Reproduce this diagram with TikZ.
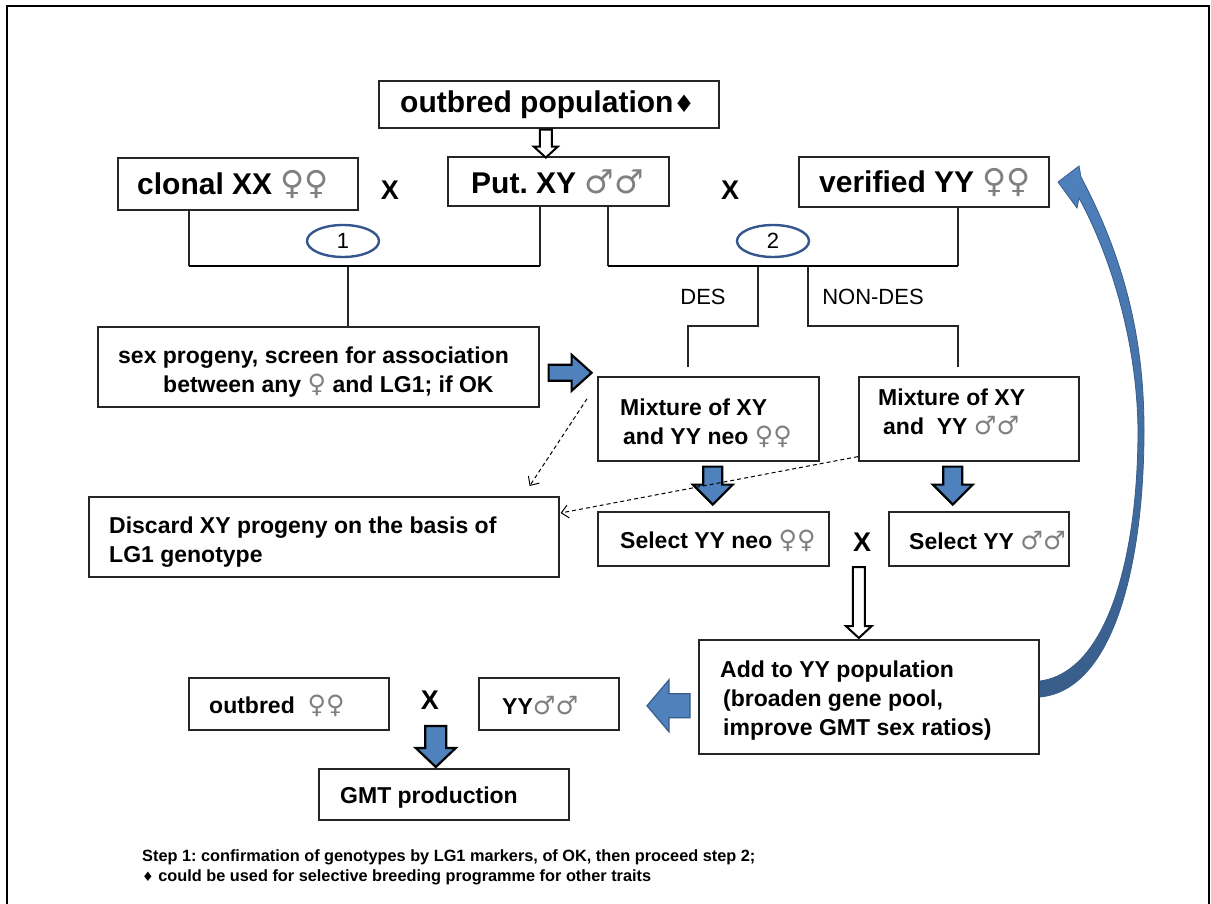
\documentclass[tikz,border=0pt]{standalone}
\usepackage{fontspec}
\setmainfont{Liberation Sans}
\newfontfamily\symfont{DejaVu Sans}[Scale=1.1]
\newfontfamily\diafont{DejaVu Sans}[Scale=0.8]
\usetikzlibrary{calc,arrows.meta,shapes.geometric}
\definecolor{arrowblue}{RGB}{79,129,189}
\definecolor{arrowedge}{RGB}{56,93,138}
\definecolor{ellblue}{RGB}{52,86,140}
\newcommand\fem{{\symfont\mdseries\color{black!50}♀}}
\newcommand\mal{{\symfont\mdseries\color{black!50}♂}}
\newcommand\dia{{\diafont\bfseries ♦}}
\frenchspacing
% vertical block arrow: style, top point, length, shaft half, head half, head length
\newcommand\blkv[6]{\draw[#1] #2 ++({-(#4)},0) -- ++(0,{(#3)-(#6)}) -- ++({(#4)-(#5)},0) -- ++(#5,#6) -- ++(#5,{-(#6)}) -- ++({(#4)-(#5)},0) -- ++(0,{(#6)-(#3)}) -- cycle;}
% horizontal block arrow: style, start point, length (neg = left), shaft half, head half, head length (neg = left)
\newcommand\blkh[6]{\draw[#1] #2 ++(0,{-(#4)}) -- ++({(#3)-(#6)},0) -- ++(0,{(#4)-(#5)}) -- ++(#6,#5) -- ++({-(#6)},#5) -- ++(0,{(#4)-(#5)}) -- ++({(#6)-(#3)},0) -- cycle;}
\tikzset{
  box/.style={draw=black!85, line width=1.6pt, fill=white, inner sep=0pt, anchor=north west},
  bigt/.style={font=\fontsize{30}{34}\selectfont\bfseries, inner sep=0pt, anchor=west},
  bodyt/.style={font=\fontsize{23}{29}\selectfont\bfseries, inner sep=0pt, anchor=west, align=left},
  xl/.style={font=\fontsize{27}{27}\selectfont\bfseries, inner sep=0pt},
  lab/.style={font=\fontsize{22}{22}\selectfont, inner sep=0pt},
  ell/.style={ellipse, draw=ellblue, line width=2.4pt, fill=white, minimum width=72pt, minimum height=32pt, inner sep=0pt, font=\fontsize{22}{22}\selectfont},
  vline/.style={draw=black!85, line width=1.2pt},
  hline/.style={draw=black, line width=2.2pt},
  bluearrow/.style={fill=arrowblue, draw=black, line width=2.2pt, line join=miter},
  bluearrowsoft/.style={fill=arrowblue, draw=arrowedge, line width=1.2pt, line join=miter},
  hollow/.style={fill=white, draw=black, line width=2pt, line join=miter},
  dasharrow/.style={draw=black, line width=1pt, dash pattern=on 4pt off 3pt, -{Straight Barb[length=7pt,width=13pt]}},
  foot/.style={font=\fontsize{16.3}{19.5}\selectfont\bfseries, inner sep=0pt, anchor=west, align=left}
}
\begin{document}
\begin{tikzpicture}[x=1pt,y=-1pt]
\useasboundingbox (0,0) rectangle (1211,904);
\fill[white] (0,0) rectangle (1211,904);
% frame
\draw[line width=2.5pt] (7,906) -- (7,6) -- (1209,6) -- (1209,906);

% ---------- boxes ----------
\node[box, minimum width=340pt, minimum height=47pt] (outbred) at (378,80) {};
\node[box, minimum width=240pt, minimum height=52pt] (clonal) at (117,157) {};
\node[box, minimum width=221pt, minimum height=49pt] (put) at (447,156) {};
\node[box, minimum width=250pt, minimum height=50pt] (verified) at (798,156) {};
\node[box, minimum width=441pt, minimum height=80pt] (sexprog) at (97,326) {};
\node[box, minimum width=470pt, minimum height=80pt] (discard) at (88,496) {};
\node[box, minimum width=221pt, minimum height=84pt] (mixL) at (597,376) {};
\node[box, minimum width=220pt, minimum height=84pt] (mixR) at (858,376) {};
\node[box, minimum width=231pt, minimum height=54pt] (selL) at (597,511) {};
\node[box, minimum width=180pt, minimum height=54pt] (selR) at (888,511) {};
\node[box, minimum width=340pt, minimum height=114pt] (add) at (698,639) {};
\node[box, minimum width=200pt, minimum height=52pt] (outF) at (188,677) {};
\node[box, minimum width=140pt, minimum height=52pt] (yy2) at (478,677) {};
\node[box, minimum width=250pt, minimum height=51pt] (gmt) at (318,768) {};

% ---------- texts ----------
\node[bigt] (toutbred) at ($(outbred.west)+(22,0)$) {outbred population\dia};
\node[bigt] (tclonal) at ($(clonal.west)+(20,1)$) {clonal XX \fem\fem};
\node[bigt] (tput) at ($(put.west)+(24,1)$) {Put. XY \mal\mal};
\node[bigt] (tverified) at ($(verified.west)+(21,1)$) {verified YY \fem\fem};
\node[bodyt] (tsexprog) at ($(sexprog.west)+(21,5)$) {sex progeny, screen for association\\\hspace{45pt}between any \fem{} and LG1; if OK};
\node[bodyt] (tdiscard) at ($(discard.west)+(21,5)$) {Discard XY progeny on the basis of\\LG1 genotype};
\node[bodyt] (tmixL) at ($(mixL.west)+(23,4)$) {Mixture of XY\\\hspace{3pt}and YY neo \fem\fem};
\node[bodyt] (tmixR) at ($(mixR.west)+(20,-7)$) {Mixture of XY\\\hspace{5pt}and\ \ YY \mal\mal};
\node[bodyt] (tselL) at ($(selL.west)+(23,2)$) {Select YY neo \fem\fem};
\node[bodyt] (tselR) at ($(selR.west)+(21,2)$) {Select YY \mal\mal};
\node[bodyt] (tadd) at ($(add.west)+(22,4)$) {Add to YY population\\\hspace{3pt}(broaden gene pool,\\\hspace{3pt}improve GMT sex ratios)};
\node[bodyt] (toutF) at ($(outF.west)+(21,2)$) {outbred \ \fem\fem};
\node[bodyt] (tyy2) at ($(yy2.west)+(24,2)$) {YY\mal\mal};
\node[bodyt] (tgmt) at ($(gmt.west)+(22,3)$) {GMT production};

% ---------- crosses ----------
\node[xl] (x1) at (390,190) {X};
\node[xl] (x2) at (730,190) {X};
\node[xl] (x3) at (862,542) {X};
\node[xl] (x4) at (430,700) {X};

% ---------- bracket 1 ----------
\coordinate (h) at (0,266);
\coordinate (m) at (0,326);
\coordinate (b1l) at ($(clonal.south west)+(72,0)$);
\coordinate (b1r) at ($(put.south west)+(93,0)$);
\coordinate (s1) at ($(sexprog.north west)+(251,0)$);
\draw[vline] (b1l) -- (b1l |- h);
\draw[vline] (b1r) -- (b1r |- h);
\draw[vline] (s1 |- h) -- (s1);
\draw[hline] (b1l |- h) -- (b1r |- h);
\node[ell] (e1) at (343,241) {1};

% ---------- bracket 2 ----------
\coordinate (b2l) at ($(put.south west)+(161,0)$);
\coordinate (b2r) at ($(verified.south west)+(160,0)$);
\coordinate (dtop) at ($(b2l |- h)+(150,0)$);
\coordinate (ndtop) at ($(b2l |- h)+(200,0)$);
\coordinate (dl) at ($(mixL.north west)+(91,-9)$);
\coordinate (nr) at ($(mixR.north west)+(100,-9)$);
\draw[vline] (b2l) -- (b2l |- h);
\draw[vline] (b2r) -- (b2r |- h);
\draw[vline] (dtop) -- (dtop |- m) -- (dl |- m) -- (dl);
\draw[vline] (ndtop) -- (ndtop |- m) -- (nr |- m) -- (nr);
\draw[hline] (b2l |- h) -- (b2r |- h);
\node[ell] (e2) at (773,241) {2};
\node[lab] (des) at (703,297) {DES};
\node[lab] (nondes) at (873,297) {NON-DES};

% ---------- block arrows ----------
\blkv{hollow}{($(outbred.south)+(-3,1)$)}{28}{6}{12}{11}
\blkv{hollow}{($(add.north)+(-10,-72)$)}{71}{6}{13}{12}
\blkv{bluearrow}{($(mixL.south)+(4.5,5)$)}{38}{9.5}{20}{20}
\blkv{bluearrow}{($(mixR.south)+(-16,5)$)}{38}{9.5}{20}{20}
\blkv{bluearrow}{($(gmt.north)+(-8,-42)$)}{41}{10.5}{20}{19}
\blkh{bluearrow}{($(sexprog.east)+(9,6)$)}{43}{8}{18}{20}
\blkh{bluearrowsoft}{($(add.west)+(-8,9)$)}{-43}{12}{26}{-22}

% ---------- dashed arrows ----------
\draw[dasharrow] ($(mixL.west)+(-10,-20)$) -- ($(discard.north east)+(-30,-10)$);
\draw[dasharrow] ($(mixR.south west)+(0,-5)$) -- ($(discard.north east)+(1,17)$);

% ---------- curved return arrow ----------
\path[draw=arrowedge, line width=0.8pt, top color=arrowblue, bottom color=arrowedge]
  (1040,697) .. controls (1115,690) and (1144,560) .. (1144,430)
  .. controls (1144,340) and (1125,260) .. (1081,177)
  -- (1079,166) -- (1058,182) -- (1077,208) -- (1079,198)
  .. controls (1110,255) and (1137,340) .. (1138,430)
  .. controls (1138,555) and (1108,672) .. (1040,681) -- cycle;

% ---------- footer ----------
\node[foot] (footer) at (142,867.5) {Step 1: confirmation of genotypes by LG1 markers, of OK, then proceed step 2;\\\dia{} could be used for selective breeding programme for other traits};
\end{tikzpicture}
\end{document}
